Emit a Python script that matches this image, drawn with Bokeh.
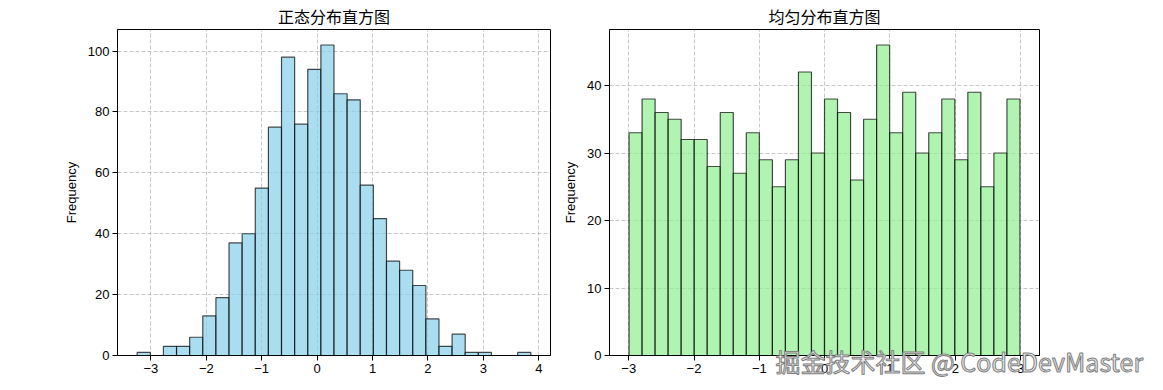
import numpy as np
from bokeh.plotting import figure
from bokeh.layouts import row
from bokeh.models import Range1d, FixedTicker, Title
from bokeh.embed import file_html
from bokeh.resources import INLINE

# ---- data ----
normal_counts = [1, 0, 3, 3, 6, 13, 19, 37, 40, 55,
                 75, 98, 76, 94, 102, 86, 84, 56, 45, 31,
                 28, 23, 12, 3, 7, 1, 1, 0, 0, 1]
normal_range = [-3.247, 3.856]
uniform_counts = [33, 38, 36, 35, 32, 32, 28, 36, 27, 33,
                  29, 25, 29, 42, 30, 38, 36, 26, 35, 46,
                  33, 39, 30, 33, 38, 29, 39, 25, 30, 38]
uniform_range = [-2.995, 2.99]
normal_xticks = [-3, -2, -1, 0, 1, 2, 3, 4]
normal_yticks = [0, 20, 40, 60, 80, 100]
uniform_xticks = [-3, -2, -1, 0, 1, 2, 3]
uniform_yticks = [0, 10, 20, 30, 40]
titles = ["正态分布直方图", "均匀分布直方图"]
ylabel = "Frequency"
watermark = "掘金技术社区 @ CodeDevMaster"

CJK = "Noto Sans CJK SC"
LAT = "Liberation Sans"


def make(counts, rng, xticks, yticks, title, color, width, bl, br):
    edges = np.linspace(rng[0], rng[1], len(counts) + 1)
    span = rng[1] - rng[0]
    ymax = max(counts) * 1.05
    p = figure(width=width, height=390, output_backend="svg", toolbar_location=None,
               x_range=Range1d(rng[0] - 0.05 * span, rng[1] + 0.05 * span),
               y_range=Range1d(0, ymax),
               min_border_left=bl, min_border_right=br, min_border_top=29, min_border_bottom=35,
               title=title)
    p.quad(left=edges[:-1], right=edges[1:], top=counts, bottom=0,
           fill_color=color, fill_alpha=0.7, line_color="black", line_alpha=0.7, line_width=1.2)
    p.title.text_font = CJK
    p.title.text_font_size = "16px"
    p.title.text_font_style = "normal"
    p.title.text_color = "black"
    p.title.align = "center"
    p.title.vertical_align = "top"
    p.title.standoff = 0
    p.outline_line_color = "black"
    p.outline_line_alpha = 1
    p.outline_line_width = 1
    for ax in (p.xaxis[0], p.yaxis[0]):
        ax.major_label_text_font = LAT
        ax.major_label_text_font_size = "13px"
        ax.major_label_text_color = "black"
        ax.axis_line_color = "black"
        ax.major_tick_line_color = "black"
        ax.major_tick_in = 0
        ax.major_tick_out = 5
        ax.minor_tick_line_color = None
        ax.major_label_standoff = 3
    p.xaxis.ticker = FixedTicker(ticks=xticks)
    p.xaxis.major_label_overrides = {t: (str(t).replace("-", "\u2212")) for t in xticks}
    p.yaxis.ticker = FixedTicker(ticks=yticks)
    p.yaxis.axis_label = ylabel
    p.yaxis.axis_label_text_font = LAT
    p.yaxis.axis_label_text_font_size = "13px"
    p.yaxis.axis_label_text_font_style = "normal"
    p.yaxis.axis_label_text_color = "black"
    p.yaxis.axis_label_standoff = 6
    p.grid.grid_line_color = "#b0b0b0"
    p.grid.grid_line_alpha = 0.7
    p.grid.grid_line_dash = "4 2"
    p.grid.grid_line_width = 1
    p.xgrid.ticker = FixedTicker(ticks=xticks)
    p.ygrid.ticker = FixedTicker(ticks=yticks)
    return p


p1 = make(normal_counts, normal_range, normal_xticks, normal_yticks, titles[0], "skyblue", 560, 117, 10)
p2 = make(uniform_counts, uniform_range, uniform_xticks, uniform_yticks, titles[1], "lightgreen", 603, 45, 124)

wm = Title(text=watermark, text_font=CJK, text_font_size="25px", text_font_style="normal",
           text_color="#ececec", text_outline_color="#808080",
           align="left", vertical_align="top", offset=166, standoff=-66)
p2.add_layout(wm, "below")

layout = row(p1, p2)
open("out.html", "w").write(file_html(layout, INLINE))
